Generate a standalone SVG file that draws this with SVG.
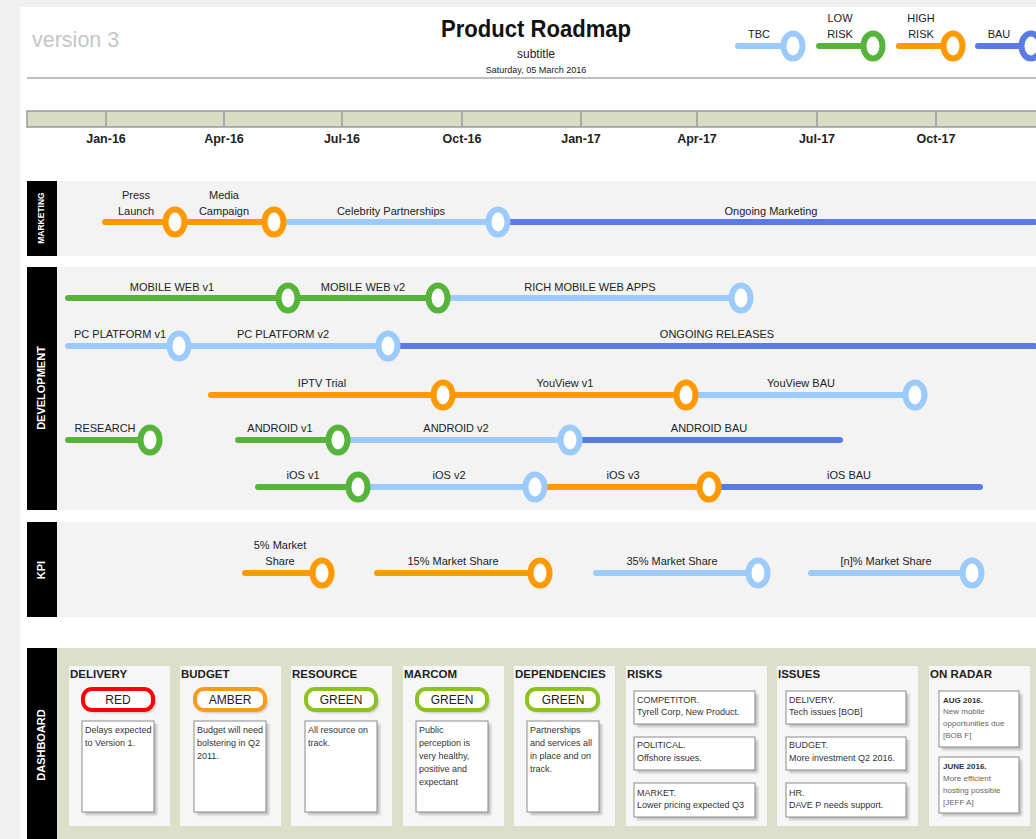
<svg xmlns="http://www.w3.org/2000/svg" width="1036" height="839" viewBox="0 0 1036 839">
<style>
text{font-family:"Liberation Sans",Arial,sans-serif;fill:#222}
.lbl{font-size:11px;text-anchor:middle}
.ln{fill:none;stroke-width:6;stroke-linecap:round}
.o{stroke:#ff9900}.g{stroke:#57b43b}.lb{stroke:#9ccbfb}.b{stroke:#5b7be3}
.ms{fill:#fff;stroke-width:6}
.side{fill:#000}
.sidet{fill:#fff;font-weight:bold;text-anchor:middle}
.row{fill:#f3f3f3}
.mon{font-size:12.5px;font-weight:bold;text-anchor:middle}
.dt{font-size:11.5px;font-weight:bold}
.panel{fill:#f6f6f6}
.note{fill:#fff;stroke:#8a8a8a;stroke-width:1}
.shadow{fill:#9a9a9a;opacity:.55}
.nt{font-size:9px;fill:#333}
.pill{fill:#fff;stroke-width:4}
.pt{font-size:12px;text-anchor:middle}
.rt{font-size:8px;fill:#666}
.rb{font-size:8px;font-weight:bold;fill:#333}
</style>
<defs>
<filter id="sh" x="-20%" y="-20%" width="150%" height="150%"><feGaussianBlur stdDeviation="1"/></filter>
</defs>
<rect width="1036" height="839" fill="#f0f0f0"/>
<rect x="20" y="7" width="1016" height="832" fill="#fff"/>

<g id="header">
<text x="32" y="47" style="font-size:21.5px;fill:#c6c6c6">version 3</text>
<text x="536" y="37" text-anchor="middle" style="font-size:23px;font-weight:bold;fill:#111" textLength="190" lengthAdjust="spacingAndGlyphs">Product Roadmap</text>
<text x="536" y="58" text-anchor="middle" style="font-size:12px">subtitle</text>
<text x="536" y="73" text-anchor="middle" style="font-size:9px">Saturday, 05 March 2016</text>
<line x1="27" y1="78" x2="1036" y2="78" stroke="#bdbdbd" stroke-width="2"/>
</g>

<g id="legend">
<line class="ln lb" x1="738" y1="46" x2="793" y2="46"/>
<ellipse class="ms lb" cx="793" cy="46" rx="9.5" ry="12.5"/>
<text class="lbl" x="759" y="38">TBC</text>
<line class="ln g" x1="819" y1="46" x2="873" y2="46"/>
<ellipse class="ms g" cx="873" cy="46" rx="9.5" ry="12.5"/>
<text class="lbl" x="840" y="22">LOW</text><text class="lbl" x="840" y="38">RISK</text>
<line class="ln o" x1="899" y1="46" x2="953" y2="46"/>
<ellipse class="ms o" cx="953" cy="46" rx="9.5" ry="12.5"/>
<text class="lbl" x="921" y="22">HIGH</text><text class="lbl" x="921" y="38">RISK</text>
<line class="ln b" x1="978" y1="46" x2="1030" y2="46"/>
<ellipse class="ms b" cx="1031" cy="46" rx="9.5" ry="12.5"/>
<text class="lbl" x="999" y="38">BAU</text>
</g>

<g id="timeline">
<rect x="27" y="111" width="1012" height="16" fill="#d9dcc5" stroke="#9a9a9a" stroke-width="1.5"/>
<g stroke="#9a9a9a" stroke-width="1.5">
<line x1="106" y1="111" x2="106" y2="127"/><line x1="224" y1="111" x2="224" y2="127"/>
<line x1="342" y1="111" x2="342" y2="127"/><line x1="462" y1="111" x2="462" y2="127"/>
<line x1="581" y1="111" x2="581" y2="127"/><line x1="697" y1="111" x2="697" y2="127"/>
<line x1="817" y1="111" x2="817" y2="127"/><line x1="936" y1="111" x2="936" y2="127"/>
</g>
<text class="mon" x="106" y="143">Jan-16</text><text class="mon" x="224" y="143">Apr-16</text>
<text class="mon" x="342" y="143">Jul-16</text><text class="mon" x="462" y="143">Oct-16</text>
<text class="mon" x="581" y="143">Jan-17</text><text class="mon" x="697" y="143">Apr-17</text>
<text class="mon" x="817" y="143">Jul-17</text><text class="mon" x="936" y="143">Oct-17</text>
</g>

<g id="lanes">
<rect class="row" x="57" y="181" width="979" height="75"/>
<rect class="side" x="27" y="181" width="30" height="75"/>
<text class="sidet" transform="translate(44,218) rotate(-90)" style="font-size:8.5px">MARKETING</text>
<rect class="row" x="57" y="267" width="979" height="243"/>
<rect class="side" x="27" y="267" width="30" height="243"/>
<text class="sidet" transform="translate(45,388) rotate(-90)" style="font-size:11px">DEVELOPMENT</text>
<rect class="row" x="57" y="522" width="979" height="95"/>
<rect class="side" x="27" y="522" width="30" height="95"/>
<text class="sidet" transform="translate(45,570) rotate(-90)" style="font-size:11px">KPI</text>
<rect x="57" y="648" width="979" height="191" fill="#dcdfc9"/>
<rect class="side" x="27" y="648" width="30" height="191"/>
<text class="sidet" transform="translate(45,745) rotate(-90)" style="font-size:11px">DASHBOARD</text>
</g>

<g id="connectors">
<line class="ln o" x1="105" y1="222" x2="175" y2="222"/>
<line class="ln o" x1="175" y1="222" x2="274" y2="222"/>
<line class="ln lb" x1="274" y1="222" x2="498" y2="222"/>
<line class="ln b" x1="498" y1="222" x2="1034" y2="222"/>

<line class="ln g" x1="68" y1="298" x2="288" y2="298"/>
<line class="ln g" x1="288" y1="298" x2="438" y2="298"/>
<line class="ln lb" x1="438" y1="298" x2="741" y2="298"/>

<line class="ln lb" x1="68" y1="346" x2="179" y2="346"/>
<line class="ln lb" x1="179" y1="346" x2="388" y2="346"/>
<line class="ln b" x1="388" y1="346" x2="1034" y2="346"/>

<line class="ln o" x1="211" y1="395" x2="443" y2="395"/>
<line class="ln o" x1="443" y1="395" x2="686" y2="395"/>
<line class="ln lb" x1="686" y1="395" x2="915" y2="395"/>

<line class="ln g" x1="68" y1="440" x2="150" y2="440"/>
<line class="ln g" x1="238" y1="440" x2="338" y2="440"/>
<line class="ln lb" x1="338" y1="440" x2="570" y2="440"/>
<line class="ln b" x1="570" y1="440" x2="840" y2="440"/>

<line class="ln g" x1="258" y1="487" x2="358" y2="487"/>
<line class="ln lb" x1="358" y1="487" x2="535" y2="487"/>
<line class="ln o" x1="535" y1="487" x2="709" y2="487"/>
<line class="ln b" x1="709" y1="487" x2="980" y2="487"/>

<line class="ln o" x1="245" y1="573" x2="322" y2="573"/>
<line class="ln o" x1="377" y1="573" x2="540" y2="573"/>
<line class="ln lb" x1="596" y1="573" x2="758" y2="573"/>
<line class="ln lb" x1="811" y1="573" x2="972" y2="573"/>
</g>

<g id="marketing">
<g id="m-press"><ellipse class="ms o" cx="175" cy="222" rx="9.5" ry="12.5"/><text class="lbl" x="136" y="199">Press</text><text class="lbl" x="136" y="215">Launch</text></g>
<g id="m-media"><ellipse class="ms o" cx="274" cy="222" rx="9.5" ry="12.5"/><text class="lbl" x="224" y="199">Media</text><text class="lbl" x="224" y="215">Campaign</text></g>
<g id="m-celeb"><ellipse class="ms lb" cx="498" cy="222" rx="9.5" ry="12.5"/><text class="lbl" x="391" y="215">Celebrity Partnerships</text></g>
<g id="m-ongoing"><text class="lbl" x="771" y="215">Ongoing Marketing</text></g>
</g>

<g id="development">
<g id="d-mw1"><ellipse class="ms g" cx="288" cy="298" rx="9.5" ry="12.5"/><text class="lbl" x="172" y="291">MOBILE WEB v1</text></g>
<g id="d-mw2"><ellipse class="ms g" cx="438" cy="298" rx="9.5" ry="12.5"/><text class="lbl" x="363" y="291">MOBILE WEB v2</text></g>
<g id="d-rich"><ellipse class="ms lb" cx="741" cy="298" rx="9.5" ry="12.5"/><text class="lbl" x="590" y="291">RICH MOBILE WEB APPS</text></g>
<g id="d-pc1"><ellipse class="ms lb" cx="179" cy="346" rx="9.5" ry="12.5"/><text class="lbl" x="120" y="338">PC PLATFORM v1</text></g>
<g id="d-pc2"><ellipse class="ms lb" cx="388" cy="346" rx="9.5" ry="12.5"/><text class="lbl" x="283" y="338">PC PLATFORM v2</text></g>
<g id="d-ongoing"><text class="lbl" x="717" y="338">ONGOING RELEASES</text></g>
<g id="d-iptv"><ellipse class="ms o" cx="443" cy="395" rx="9.5" ry="12.5"/><text class="lbl" x="322" y="387">IPTV Trial</text></g>
<g id="d-yv1"><ellipse class="ms o" cx="686" cy="395" rx="9.5" ry="12.5"/><text class="lbl" x="565" y="387">YouView v1</text></g>
<g id="d-yvbau"><ellipse class="ms lb" cx="915" cy="395" rx="9.5" ry="12.5"/><text class="lbl" x="801" y="387">YouView BAU</text></g>
<g id="d-research"><ellipse class="ms g" cx="150" cy="440" rx="9.5" ry="12.5"/><text class="lbl" x="105" y="432">RESEARCH</text></g>
<g id="d-and1"><ellipse class="ms g" cx="338" cy="440" rx="9.5" ry="12.5"/><text class="lbl" x="280" y="432">ANDROID v1</text></g>
<g id="d-and2"><ellipse class="ms lb" cx="570" cy="440" rx="9.5" ry="12.5"/><text class="lbl" x="456" y="432">ANDROID v2</text></g>
<g id="d-andbau"><text class="lbl" x="709" y="432">ANDROID BAU</text></g>
<g id="d-ios1"><ellipse class="ms g" cx="358" cy="487" rx="9.5" ry="12.5"/><text class="lbl" x="303" y="479">iOS v1</text></g>
<g id="d-ios2"><ellipse class="ms lb" cx="535" cy="487" rx="9.5" ry="12.5"/><text class="lbl" x="449" y="479">iOS v2</text></g>
<g id="d-ios3"><ellipse class="ms o" cx="709" cy="487" rx="9.5" ry="12.5"/><text class="lbl" x="623" y="479">iOS v3</text></g>
<g id="d-iosbau"><text class="lbl" x="849" y="479">iOS BAU</text></g>
</g>

<g id="kpi">
<g id="k-5"><ellipse class="ms o" cx="322" cy="573" rx="9.5" ry="12.5"/><text class="lbl" x="280" y="549">5% Market</text><text class="lbl" x="280" y="565">Share</text></g>
<g id="k-15"><ellipse class="ms o" cx="540" cy="573" rx="9.5" ry="12.5"/><text class="lbl" x="453" y="565">15% Market Share</text></g>
<g id="k-35"><ellipse class="ms lb" cx="758" cy="573" rx="9.5" ry="12.5"/><text class="lbl" x="672" y="565">35% Market Share</text></g>
<g id="k-n"><ellipse class="ms lb" cx="972" cy="573" rx="9.5" ry="12.5"/><text class="lbl" x="886" y="565">[n]% Market Share</text></g>
</g>

<g id="dashboard">
<g id="db-delivery">
<rect class="panel" x="69" y="666" width="101" height="160"/>
<text class="dt" x="70" y="678">DELIVERY</text>
<rect class="shadow" x="85" y="692" width="71" height="21" rx="10" filter="url(#sh)"/>
<rect class="pill" x="83" y="689" width="70" height="21" rx="9" stroke="#ff0000"/>
<text class="pt" x="118" y="704">RED</text>
<rect class="shadow" x="85" y="724" width="72" height="91" filter="url(#sh)"/>
<rect class="note" x="82" y="721" width="72" height="91"/>
<text class="nt" x="85" y="733">Delays expected</text><text class="nt" x="85" y="746">to Version 1.</text>
</g>
<g id="db-budget">
<rect class="panel" x="180" y="666" width="101" height="160"/>
<text class="dt" x="181" y="678">BUDGET</text>
<rect class="shadow" x="197" y="692" width="71" height="21" rx="10" filter="url(#sh)"/>
<rect class="pill" x="195" y="689" width="70" height="21" rx="9" stroke="#ff9a1e"/>
<text class="pt" x="230" y="704">AMBER</text>
<rect class="shadow" x="197" y="724" width="72" height="91" filter="url(#sh)"/>
<rect class="note" x="194" y="721" width="72" height="91"/>
<text class="nt" x="197" y="733">Budget will need</text><text class="nt" x="197" y="746">bolstering in Q2</text><text class="nt" x="197" y="759">2011.</text>
</g>
<g id="db-resource">
<rect class="panel" x="291" y="666" width="101" height="160"/>
<text class="dt" x="292" y="678">RESOURCE</text>
<rect class="shadow" x="308" y="692" width="71" height="21" rx="10" filter="url(#sh)"/>
<rect class="pill" x="306" y="689" width="70" height="21" rx="9" stroke="#8dc21f"/>
<text class="pt" x="341" y="704">GREEN</text>
<rect class="shadow" x="308" y="724" width="72" height="91" filter="url(#sh)"/>
<rect class="note" x="305" y="721" width="72" height="91"/>
<text class="nt" x="308" y="733">All resource on</text><text class="nt" x="308" y="746">track.</text>
</g>
<g id="db-marcom">
<rect class="panel" x="403" y="666" width="101" height="160"/>
<text class="dt" x="404" y="678">MARCOM</text>
<rect class="shadow" x="419" y="692" width="71" height="21" rx="10" filter="url(#sh)"/>
<rect class="pill" x="417" y="689" width="70" height="21" rx="9" stroke="#8dc21f"/>
<text class="pt" x="452" y="704">GREEN</text>
<rect class="shadow" x="419" y="724" width="72" height="91" filter="url(#sh)"/>
<rect class="note" x="416" y="721" width="72" height="91"/>
<text class="nt" x="419" y="733">Public</text><text class="nt" x="419" y="746">perception is</text><text class="nt" x="419" y="759">very healthy,</text><text class="nt" x="419" y="772">positive and</text><text class="nt" x="419" y="785">expectant</text>
</g>
<g id="db-dependencies">
<rect class="panel" x="514" y="666" width="101" height="160"/>
<text class="dt" x="515" y="678">DEPENDENCIES</text>
<rect class="shadow" x="529" y="692" width="71" height="21" rx="10" filter="url(#sh)"/>
<rect class="pill" x="527" y="689" width="71" height="21" rx="9" stroke="#8dc21f"/>
<text class="pt" x="563" y="704">GREEN</text>
<rect class="shadow" x="530" y="724" width="72" height="91" filter="url(#sh)"/>
<rect class="note" x="527" y="721" width="72" height="91"/>
<text class="nt" x="530" y="733">Partnerships</text><text class="nt" x="530" y="746">and services all</text><text class="nt" x="530" y="759">in place and on</text><text class="nt" x="530" y="772">track.</text>
</g>
<g id="db-risks">
<rect class="panel" x="626" y="666" width="141" height="160"/>
<text class="dt" x="627" y="678">RISKS</text>
<rect class="shadow" x="637" y="694" width="121" height="33" filter="url(#sh)"/>
<rect class="note" x="634" y="691" width="121" height="33"/>
<text class="nt" x="637" y="703">COMPETITOR.</text><text class="nt" x="637" y="715">Tyrell Corp, New Product.</text>
<rect class="shadow" x="637" y="740" width="121" height="33" filter="url(#sh)"/>
<rect class="note" x="634" y="737" width="121" height="33"/>
<text class="nt" x="637" y="748">POLITICAL.</text><text class="nt" x="637" y="761">Offshore issues.</text>
<rect class="shadow" x="637" y="786" width="121" height="34" filter="url(#sh)"/>
<rect class="note" x="634" y="783" width="121" height="34"/>
<text class="nt" x="637" y="796">MARKET.</text><text class="nt" x="637" y="808">Lower pricing expected Q3</text>
</g>
<g id="db-issues">
<rect class="panel" x="777" y="666" width="141" height="160"/>
<text class="dt" x="778" y="678">ISSUES</text>
<rect class="shadow" x="789" y="694" width="120" height="33" filter="url(#sh)"/>
<rect class="note" x="786" y="691" width="120" height="33"/>
<text class="nt" x="789" y="703">DELIVERY.</text><text class="nt" x="789" y="715">Tech issues [BOB]</text>
<rect class="shadow" x="789" y="740" width="120" height="33" filter="url(#sh)"/>
<rect class="note" x="786" y="737" width="120" height="33"/>
<text class="nt" x="789" y="748">BUDGET.</text><text class="nt" x="789" y="761">More investment Q2 2016.</text>
<rect class="shadow" x="789" y="786" width="120" height="34" filter="url(#sh)"/>
<rect class="note" x="786" y="783" width="120" height="34"/>
<text class="nt" x="789" y="796">HR.</text><text class="nt" x="789" y="808">DAVE P needs support.</text>
</g>
<g id="db-radar">
<rect class="panel" x="929" y="666" width="101" height="160"/>
<text class="dt" x="930" y="678">ON RADAR</text>
<rect class="shadow" x="942" y="694" width="80" height="56" filter="url(#sh)"/>
<rect class="note" x="939" y="691" width="80" height="56"/>
<text class="rb" x="943" y="703">AUG 2016.</text><text class="rt" x="943" y="714">New mobile</text><text class="rt" x="943" y="726">opportunities due</text><text class="rt" x="943" y="738">[BOB F]</text>
<rect class="shadow" x="942" y="760" width="80" height="56" filter="url(#sh)"/>
<rect class="note" x="939" y="757" width="80" height="56"/>
<text class="rb" x="943" y="769">JUNE 2016.</text><text class="rt" x="943" y="781">More efficient</text><text class="rt" x="943" y="793">hosting possible</text><text class="rt" x="943" y="805">[JEFF A]</text>
</g>
</g>
</svg>
